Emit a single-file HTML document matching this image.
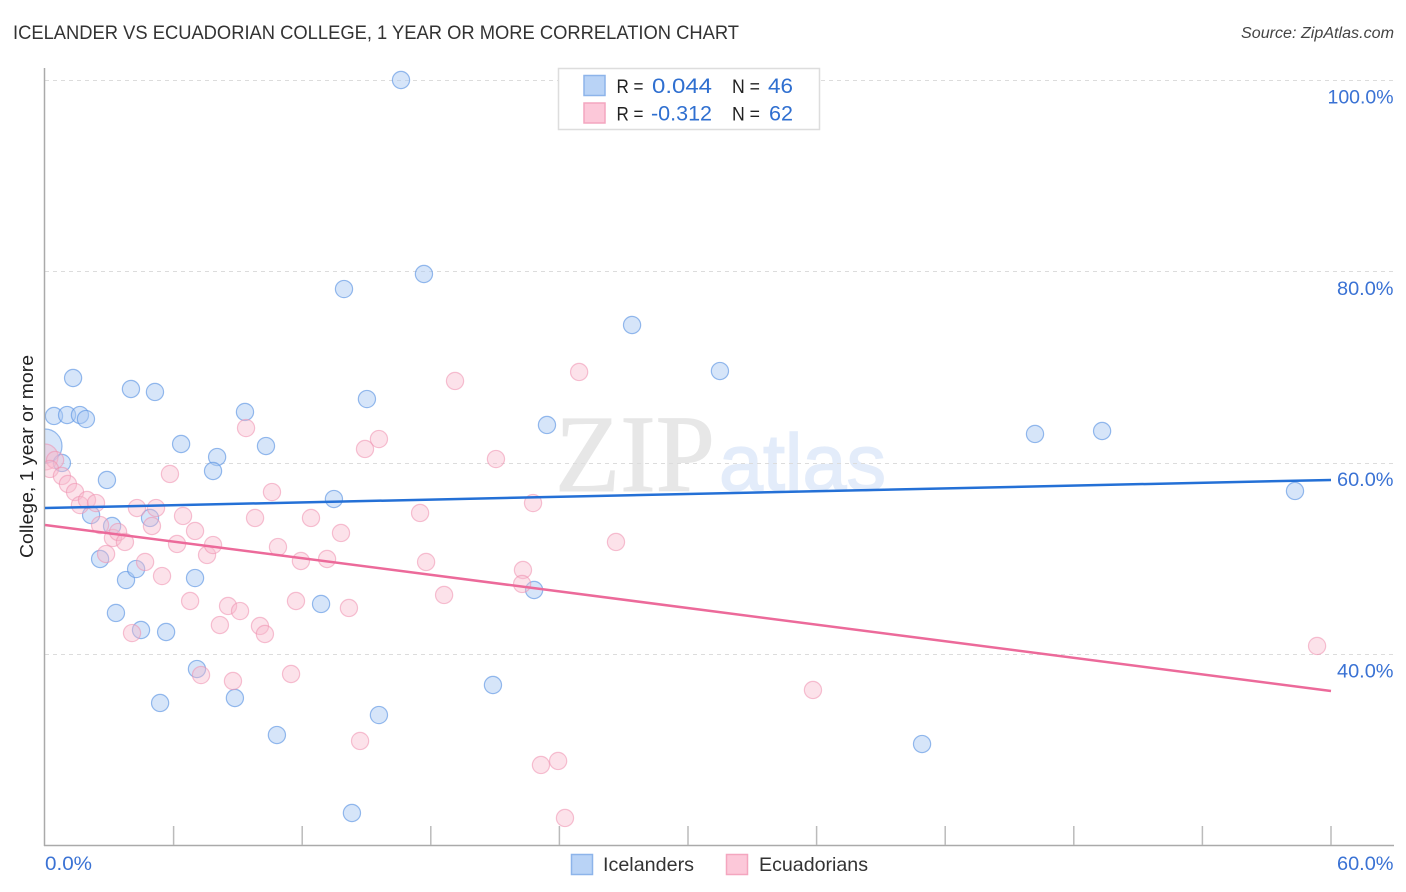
<!DOCTYPE html>
<html lang="en">
<head>
<meta charset="utf-8">
<title>Icelander vs Ecuadorian College, 1 Year or More Correlation Chart</title>
<style>
html,body{margin:0;padding:0;background:#fff;}
svg{display:block;font-family:"Liberation Sans",sans-serif;}
</style>
</head>
<body>
<svg id="chart" xmlns="http://www.w3.org/2000/svg" width="1406" height="892" viewBox="0 0 1406 892">
  <rect x="0" y="0" width="1406" height="892" fill="#ffffff"/>
  <text x="13" y="39" font-size="19.5" fill="#333333" textLength="726" lengthAdjust="spacingAndGlyphs">ICELANDER VS ECUADORIAN COLLEGE, 1 YEAR OR MORE CORRELATION CHART</text>
  <text x="1241" y="38" font-size="15.5" font-style="italic" fill="#444444" textLength="153" lengthAdjust="spacingAndGlyphs">Source: ZipAtlas.com</text>

  <g>
    <text x="555" y="491" font-family="'Liberation Serif',serif" font-size="110" fill="#e7e7e7" stroke="#e7e7e7" stroke-width="1" textLength="160" lengthAdjust="spacingAndGlyphs">ZIP</text>
    <text x="719" y="490" font-size="80" fill="#e3ecfa" stroke="#e3ecfa" stroke-width="1.5" textLength="167" lengthAdjust="spacingAndGlyphs">atlas</text>
  </g>

  <g id="grid-layer"></g>
  <g id="points-layer"></g>
  <rect x="0" y="60" width="44.5" height="786" fill="#ffffff"/>
  <g id="axis-layer"></g>
  <g id="trend-layer"></g>
  <g id="label-layer"></g>

  <text transform="translate(33,456.5) rotate(-90)" font-size="18.5" fill="#222222" text-anchor="middle" textLength="203" lengthAdjust="spacingAndGlyphs">College, 1 year or more</text>

  <g>
    <rect x="558.5" y="68.5" width="261" height="61" fill="#ffffff" stroke="#dddddd" stroke-width="1.5"/>
    <rect x="584" y="75.5" width="21" height="20" fill="#b9d3f6" stroke="#8db4ea" stroke-width="1.5"/>
    <rect x="584" y="103" width="21" height="20" fill="#fcc8d9" stroke="#f4a6bf" stroke-width="1.5"/>
    <text x="616.5" y="93" font-size="19" fill="#222222" textLength="27" lengthAdjust="spacingAndGlyphs">R =</text>
    <text x="652" y="93" font-size="21" fill="#2f6fd0" textLength="60" lengthAdjust="spacingAndGlyphs">0.044</text>
    <text x="732" y="93" font-size="19" fill="#222222" textLength="28" lengthAdjust="spacingAndGlyphs">N =</text>
    <text x="768" y="93" font-size="21" fill="#2f6fd0" textLength="25" lengthAdjust="spacingAndGlyphs">46</text>
    <text x="616.5" y="120.5" font-size="19" fill="#222222" textLength="27" lengthAdjust="spacingAndGlyphs">R =</text>
    <text x="651" y="120.5" font-size="21" fill="#2f6fd0" textLength="61" lengthAdjust="spacingAndGlyphs">-0.312</text>
    <text x="732" y="120.5" font-size="19" fill="#222222" textLength="28" lengthAdjust="spacingAndGlyphs">N =</text>
    <text x="769" y="120.5" font-size="21" fill="#2f6fd0" textLength="24" lengthAdjust="spacingAndGlyphs">62</text>
  </g>

  <g>
    <rect x="571.5" y="854.5" width="21" height="20" fill="#b9d3f6" stroke="#8db4ea" stroke-width="1.5"/>
    <text x="603" y="871" font-size="19.5" fill="#333333" textLength="91" lengthAdjust="spacingAndGlyphs">Icelanders</text>
    <rect x="726.5" y="854.5" width="21" height="20" fill="#fcc8d9" stroke="#f4a6bf" stroke-width="1.5"/>
    <text x="759" y="871" font-size="19.5" fill="#333333" textLength="109" lengthAdjust="spacingAndGlyphs">Ecuadorians</text>
  </g>
</svg>

<script>
const yTickValues = [100, 80, 60, 40];
const yTickLabels = ["100.0%", "80.0%", "60.0%", "40.0%"];
const xTickValues = [6, 12, 18, 24, 30, 36, 42, 48, 54, 60];
const xEndLabels = ["0.0%", "60.0%"];

const icelanderX = [16.61,17.68,13.95,27.39,31.49,1.31,4.01,5.13,15.02,0.42,1.03,1.63,1.91,9.33,23.42,6.35,10.31,46.19,49.32,0,0.79,8.03,7.84,2.89,13.48,58.32,2.15,3.13,4.90,2.57,3.78,4.25,7.00,22.82,12.88,3.31,4.48,5.65,7.09,20.90,5.37,8.86,15.58,10.82,40.92,14.32];
const icelanderY = [100,79.72,78.15,74.39,69.58,68.85,67.70,67.39,66.65,64.88,64.98,64.98,64.56,65.30,63.94,61.95,61.74,63.00,63.31,61.74,59.97,60.59,59.13,58.19,56.20,57.04,54.53,53.38,54.22,49.93,47.73,48.88,47.94,46.69,45.23,44.29,42.51,42.30,38.43,36.76,34.88,35.40,33.62,31.53,30.59,23.38];
const icelanderLarge = [0,0,0,0,0,0,0,0,0,0,0,0,0,0,0,0,0,0,0,1,0,0,0,0,0,0,0,0,0,0,0,0,0,0,0,0,0,0,0,0,0,0,0,0,0,0];

const ecuadorianX = [24.92,19.13,9.38,15.58,14.93,21.04,5.83,10.59,0,0.47,0.23,0.79,1.07,1.40,1.63,1.96,2.38,2.57,3.17,3.41,3.73,2.85,4.67,5.46,4.29,5.18,4.99,6.44,7.00,6.16,7.56,7.84,6.77,8.54,9.10,8.16,10.03,10.26,4.06,9.80,12.41,10.87,11.94,13.16,13.81,11.71,14.18,7.28,8.77,11.48,14.70,17.50,17.78,18.62,22.77,22.30,22.26,26.64,35.83,59.35,23.14,23.94,24.26];
const ecuadorianY = [69.48,68.54,63.62,62.47,61.43,60.38,58.82,56.93,60.59,60.28,59.34,58.61,57.77,56.93,55.57,56.10,55.78,53.48,52.13,52.75,51.71,50.45,49.62,48.15,55.26,55.26,53.38,54.43,52.86,51.50,50.35,51.39,45.54,45.02,44.49,43.03,42.93,42.09,42.19,54.22,54.22,51.18,49.72,49.93,52.65,45.54,44.81,37.80,37.18,37.91,30.91,54.74,49.62,46.17,55.78,48.78,47.32,51.71,36.24,40.84,28.40,28.82,22.86];
const ecuadorianLarge = [0,0,0,0,0,0,0,0,1,0,0,0,0,0,0,0,0,0,0,0,0,0,0,0,0,0,0,0,0,0,0,0,0,0,0,0,0,0,0,0,0,0,0,0,0,0,0,0,0,0,0,0,0,0,0,0,0,0,0,0,0,0,0];

const icelanderTrendX = [0, 60];
const icelanderTrendY = [55.26, 58.19];
const ecuadorianTrendX = [0, 60];
const ecuadorianTrendY = [53.48, 36.13];

const NS = "http://www.w3.org/2000/svg";
function xScale(v){ return 45 + (v / 60) * 1286; }
function yScale(v){ return 80 + ((100 - v) / 60) * 574; }
function labelWidth(s){ return s.length * 9.5 + 9; }
function make(tag, attrs, parent){
  const el = document.createElementNS(NS, tag);
  for (const k in attrs) el.setAttribute(k, attrs[k]);
  parent.appendChild(el);
  return el;
}

const gridLayer = document.getElementById("grid-layer");
const axisLayer = document.getElementById("axis-layer");
const pointsLayer = document.getElementById("points-layer");
const trendLayer = document.getElementById("trend-layer");
const labelLayer = document.getElementById("label-layer");

yTickValues.forEach(function(v, i){
  const y = Math.round(yScale(v)) + 0.5;
  const g = make("line", {x1:45, x2:1394, y1:y, y2:y, stroke:"#dcdcdc", "stroke-width":1, "stroke-dasharray":"4 4"}, gridLayer);
  
  
  const w = labelWidth(yTickLabels[i]);
  const t = make("text", {x:1393.5 - w, y:yScale(v) + 23.5, "font-size":19.3, fill:"#3a72d4", textLength:w, lengthAdjust:"spacingAndGlyphs"}, labelLayer);
  
  
  t.textContent = yTickLabels[i];
});

const yAxis = make("line", {x1:44.5, x2:44.5, y1:68, y2:846, stroke:"#aaaaaa", "stroke-width":1.5}, axisLayer);


const xAxis = make("line", {x1:44, x2:1394, y1:845.5, y2:845.5, stroke:"#aaaaaa", "stroke-width":1.4}, axisLayer);



xTickValues.forEach(function(v){
  const x = xScale(v);
  const tick = make("line", {x1:x, x2:x, y1:826, y2:845, stroke:"#bbbbbb", "stroke-width":1.5}, axisLayer);
  
  
});

const xLabelStart = make("text", {x:45, y:870, "font-size":19.3, fill:"#3a72d4", textLength:labelWidth(xEndLabels[0]), lengthAdjust:"spacingAndGlyphs"}, labelLayer);


xLabelStart.textContent = xEndLabels[0];
const xLabelEnd = make("text", {x:1393.5 - labelWidth(xEndLabels[1]), y:870, "font-size":19.3, fill:"#3a72d4", textLength:labelWidth(xEndLabels[1]), lengthAdjust:"spacingAndGlyphs"}, labelLayer);


xLabelEnd.textContent = xEndLabels[1];

icelanderX.forEach(function(v, i){
  const c = make("circle", {cx:xScale(v), cy:yScale(icelanderY[i]), r:icelanderLarge[i] ? 17 : 8.6, fill:"#a9c9f2", "fill-opacity":0.48, stroke:"#5f97e3", "stroke-opacity":0.65, "stroke-width":1.2}, pointsLayer);
  
  
});
ecuadorianX.forEach(function(v, i){
  const c = make("circle", {cx:xScale(v), cy:yScale(ecuadorianY[i]), r:ecuadorianLarge[i] ? 13 : 8.6, fill:"#f9b9cc", "fill-opacity":0.42, stroke:"#ee8fae", "stroke-opacity":0.55, "stroke-width":1.2}, pointsLayer);
  
  
});

const blueLine = make("line", {x1:xScale(icelanderTrendX[0]), y1:yScale(icelanderTrendY[0]), x2:xScale(icelanderTrendX[1]), y2:yScale(icelanderTrendY[1]), stroke:"#2470d6", "stroke-width":2.5}, trendLayer);


const pinkLine = make("line", {x1:xScale(ecuadorianTrendX[0]), y1:yScale(ecuadorianTrendY[0]), x2:xScale(ecuadorianTrendX[1]), y2:yScale(ecuadorianTrendY[1]), stroke:"#ec6a9a", "stroke-width":2.5}, trendLayer);


</script>
</body>
</html>
